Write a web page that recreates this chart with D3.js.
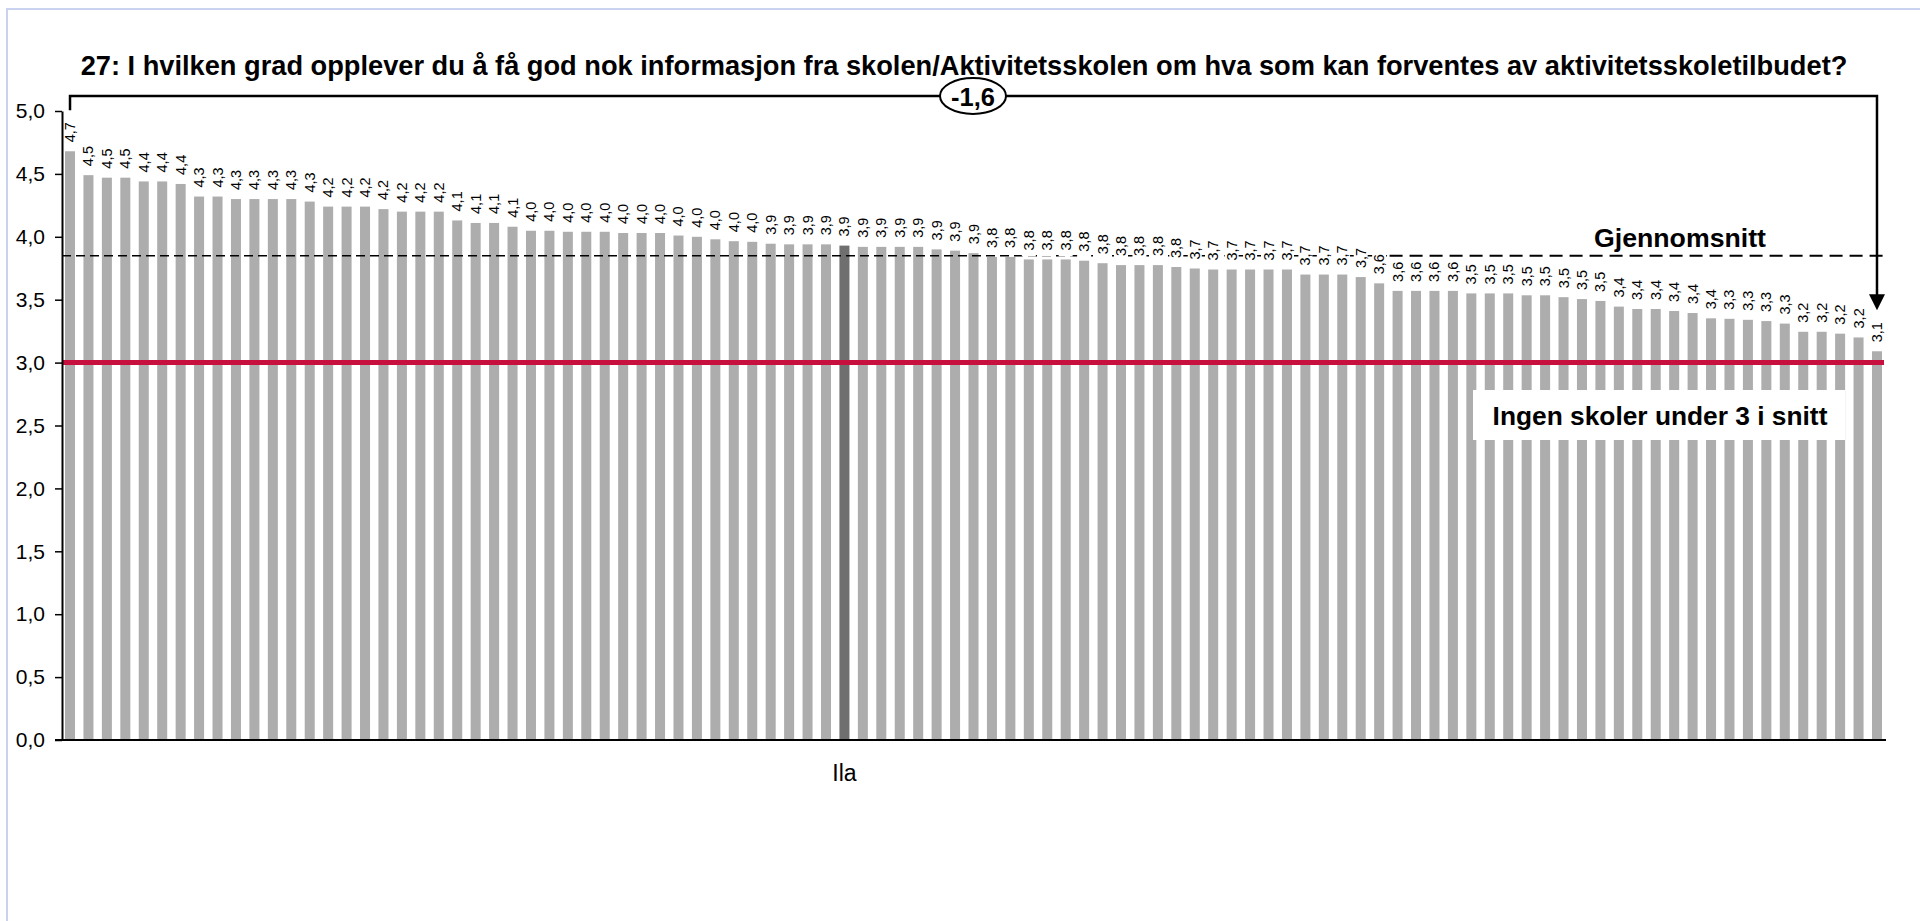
<html>
<head>
<meta charset="utf-8">
<script src="https://d3js.org/d3.v7.min.js"></script>
<style>
  body { margin: 0; background: #fff; }
  text { font-family: "Liberation Sans", Arial, sans-serif; fill: #000; }
</style>
</head>
<body>
<div id="chart"></div>
<script>
  // chart texts
  const title = "27: I hvilken grad opplever du å få god nok informasjon fra skolen/Aktivitetsskolen om hva som kan forventes av aktivitetsskoletilbudet?";
  const avgLabel = "Gjennomsnitt";
  const noteLabel = "Ingen skoler under 3 i snitt";

  // one bar per school, sorted high to low; only Ila is named on the axis
  const values = [
    4.68, 4.49, 4.47, 4.47, 4.44, 4.44, 4.42,
    4.32, 4.32, 4.30, 4.30, 4.30, 4.30, 4.28,
    4.24, 4.24, 4.24, 4.22, 4.20, 4.20, 4.20,
    4.13, 4.11, 4.11, 4.08,
    4.048, 4.048, 4.04, 4.04, 4.04, 4.03, 4.03, 4.03, 4.01, 4.00, 3.98, 3.965, 3.96,
    3.945, 3.94, 3.94, 3.94, 3.93, 3.92, 3.92, 3.92, 3.92, 3.90, 3.89, 3.87,
    3.84, 3.84, 3.82, 3.82, 3.82, 3.81, 3.79, 3.775, 3.775, 3.775, 3.76,
    3.748, 3.74, 3.74, 3.74, 3.74, 3.74, 3.70, 3.70, 3.70, 3.68,
    3.63, 3.57, 3.57, 3.57, 3.57,
    3.55, 3.55, 3.55, 3.535, 3.535, 3.52, 3.505, 3.49,
    3.445, 3.426, 3.426, 3.41, 3.394, 3.352,
    3.348, 3.34, 3.33, 3.31,
    3.245, 3.245, 3.23, 3.20,
    3.09
  ];
  const ilaIndex = 42;
  const xTickLabels = ["Ila"];
  const average = 3.85;
  const threshold = 3;
  const yTicks = [0, 0.5, 1, 1.5, 2, 2.5, 3, 3.5, 4, 4.5, 5];

  const W = 1920, H = 921;
  const no = d3.formatLocale({decimal: ",", thousands: " ", grouping: [3], currency: ["", " kr"], minus: "-"});
  const fmt = no.format(".1f");

  const svg = d3.select('#chart').append('svg')
    .attr('width', W).attr('height', H);

  // light frame round the chart area
  svg.append('rect')
    .attr('x', 7).attr('y', 9)
    .attr('width', W + 20).attr('height', H + 20)
    .attr('fill', 'none').attr('stroke', '#c9d3f0').attr('stroke-width', 2);

  var x = d3.scaleBand()
    .domain(d3.range(values.length))
    .range([62, 1885])
    .paddingInner(0.457)
    .paddingOuter(0.163);

  var y = d3.scaleLinear()
    .domain([0, 5])
    .range([740, 111]);

  const cx = i => x(i) + x.bandwidth() / 2;

  // title, squeezed to the width it has in the picture
  const t = svg.append('text')
    .attr('x', 964).attr('y', 75)
    .attr('text-anchor', 'middle')
    .style('font-weight', 'bold')
    .style('font-size', '24px')
    .text(title);
  const tl = t.node().getComputedTextLength();
  t.style('font-size', (24 * 1768 / tl) + 'px');

  // bars
  svg.append('g')
    .selectAll('rect')
    .data(values)
    .enter()
    .append('rect')
    .attr('x', (d, i) => x(i))
    .attr('y', d => y(d))
    .attr('width', x.bandwidth())
    .attr('height', d => y(0) - y(d))
    .attr('fill', (d, i) => i === ilaIndex ? '#6f6f6f' : '#adadad');

  // average line (the right part is drawn a bit heavier, as in the original)
  const split = x(72) - 3;
  svg.append('line')
    .attr('x1', 62).attr('x2', split)
    .attr('y1', y(average)).attr('y2', y(average))
    .attr('stroke', '#000').attr('stroke-width', 1.5)
    .attr('stroke-dasharray', '9,5');
  svg.append('line')
    .attr('x1', split).attr('x2', 1884)
    .attr('y1', y(average)).attr('y2', y(average))
    .attr('stroke', '#000').attr('stroke-width', 2)
    .attr('stroke-dasharray', '13,7');

  // value labels, rotated, on white
  const lab = svg.append('g')
    .selectAll('g')
    .data(values)
    .enter()
    .append('g')
    .attr('transform', (d, i) => 'translate(' + cx(i) + ',' + (y(d) - 3) + ') rotate(-90)');
  lab.append('rect')
    .attr('x', 0).attr('y', -7)
    .attr('height', 14)
    .attr('fill', '#fff');
  lab.append('text')
    .attr('x', 6).attr('y', 0)
    .attr('dominant-baseline', 'central')
    .style('font-size', '14.5px')
    .text(d => fmt(d));
  lab.each(function () {
    const g = d3.select(this);
    const len = g.select('text').node().getComputedTextLength();
    g.select('rect').attr('width', len + 8);
  });

  // threshold line at 3
  svg.append('line')
    .attr('x1', 62).attr('x2', 1884)
    .attr('y1', y(threshold)).attr('y2', y(threshold))
    .attr('stroke', '#c8103e').attr('stroke-width', 5);

  // note box
  svg.append('rect')
    .attr('x', 1473).attr('y', 390)
    .attr('width', 372).attr('height', 50)
    .attr('fill', '#fff');
  const nt = svg.append('text')
    .attr('x', 1660).attr('y', 425)
    .attr('text-anchor', 'middle')
    .style('font-weight', 'bold')
    .style('font-size', '24px')
    .text(noteLabel);
  nt.style('font-size', (24 * 335 / nt.node().getComputedTextLength()) + 'px');

  const gt = svg.append('text')
    .attr('x', 1680).attr('y', 247)
    .attr('text-anchor', 'middle')
    .style('font-weight', 'bold')
    .style('font-size', '24px')
    .text(avgLabel);
  gt.style('font-size', (24 * 172 / gt.node().getComputedTextLength()) + 'px');

  // axes
  const yAxis = svg.append('g')
    .attr('transform', 'translate(62,0)')
    .call(d3.axisLeft(y).tickValues(yTicks).tickFormat(fmt).tickSize(7).tickSizeOuter(0));
  yAxis.select('.domain').attr('stroke-width', 2);
  yAxis.selectAll('.tick line').attr('stroke-width', 1.5);
  yAxis.selectAll('.tick text')
    .attr('x', -17)
    .style('font-size', '21px')
    .style('font-family', '"Liberation Sans", Arial, sans-serif');

  svg.append('line')
    .attr('x1', 55).attr('x2', 1886)
    .attr('y1', y(0)).attr('y2', y(0))
    .attr('stroke', '#000').attr('stroke-width', 2);

  svg.append('text')
    .attr('x', cx(ilaIndex)).attr('y', 781)
    .attr('text-anchor', 'middle')
    .style('font-size', '23px')
    .text(xTickLabels[0]);

  // gap bracket from best to worst school
  const first = 0, last = values.length - 1;
  const topY = 96;
  const leftEnd = y(values[first]) - 41;
  const tipY = y(values[last]) - 41;
  svg.append('path')
    .attr('d', 'M' + cx(first) + ',' + leftEnd + 'V' + topY + 'H' + cx(last) + 'V' + (tipY - 14))
    .attr('fill', 'none').attr('stroke', '#000').attr('stroke-width', 2.5);
  svg.append('path')
    .attr('d', 'M' + (cx(last) - 8) + ',' + (tipY - 16) + 'L' + (cx(last) + 8) + ',' + (tipY - 16) + 'L' + cx(last) + ',' + tipY + 'Z')
    .attr('fill', '#000');

  const gap = values[last] - values[first];
  svg.append('ellipse')
    .attr('cx', 973).attr('cy', topY)
    .attr('rx', 33).attr('ry', 18)
    .attr('fill', '#fff').attr('stroke', '#000').attr('stroke-width', 2);
  const gtx = svg.append('text')
    .attr('x', 973).attr('y', topY + 1)
    .attr('text-anchor', 'middle')
    .attr('dominant-baseline', 'central')
    .style('font-weight', 'bold')
    .style('font-size', '24px')
    .text(fmt(gap));
  gtx.style('font-size', (24 * 44 / gtx.node().getComputedTextLength()) + 'px');
</script>
</body>
</html>
